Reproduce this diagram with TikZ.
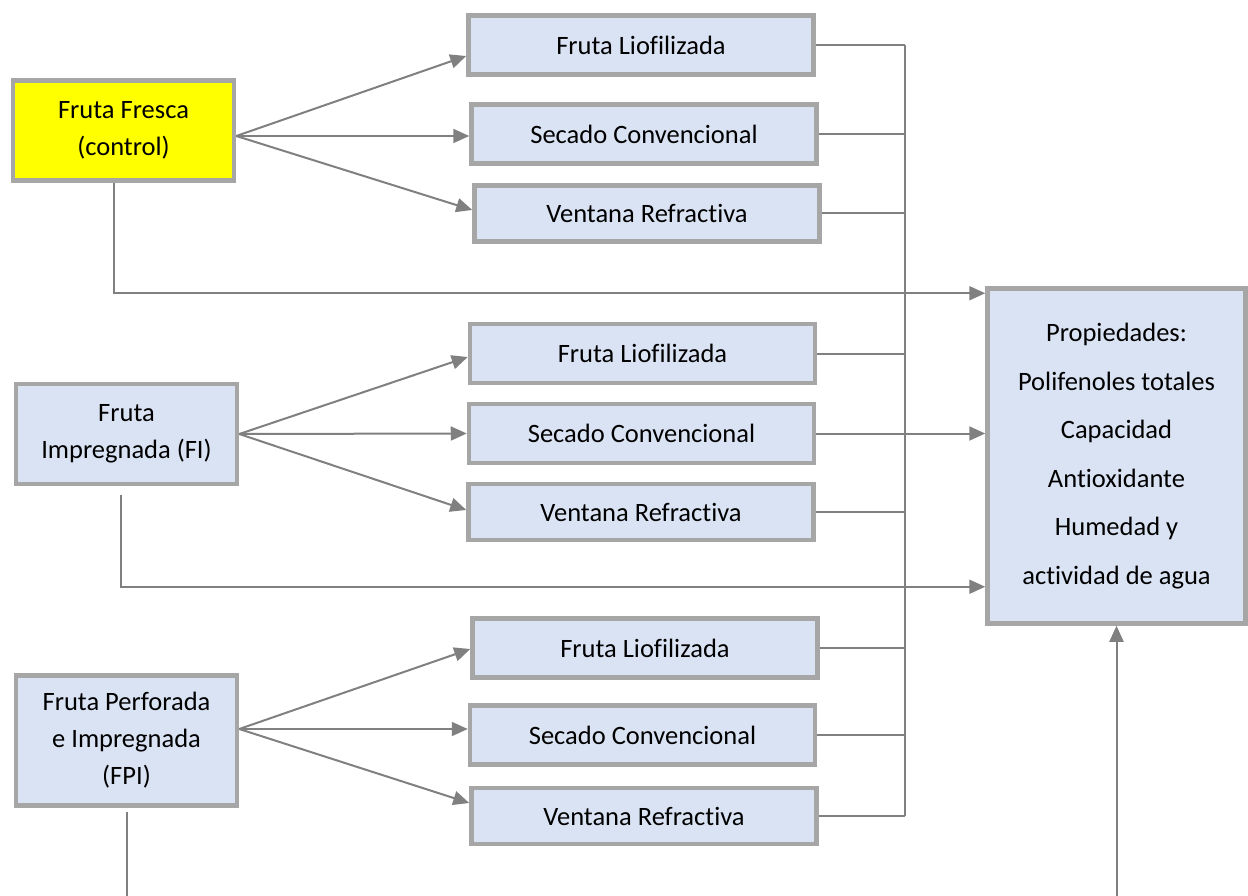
\documentclass[tikz,border=0pt]{standalone}
\usepackage{fontspec}
\setmainfont{Carlito}[Ligatures=CommonOff]
\usetikzlibrary{arrows.meta,calc}
\definecolor{boxEdge}{RGB}{166,166,166}
\definecolor{boxFill}{RGB}{218,227,243}
\definecolor{lineGray}{RGB}{128,128,128}
\definecolor{freshYellow}{RGB}{255,255,0}

\begin{document}
\begin{tikzpicture}[x=1pt, y=-1pt,
  proc/.style={draw=boxEdge, fill=boxFill, line width=4.5pt, inner sep=0pt,
               font=\fontsize{26.5}{37}\selectfont, align=center},
  src/.style={proc, minimum width=221pt, minimum height=100pt},
  dry/.style={proc, minimum width=345pt, minimum height=59pt},
  conn/.style={draw=lineGray, line width=2pt},
  arr/.style={conn, -{Triangle[length=16pt,width=14pt]}}
]
\useasboundingbox (0,0) rectangle (1248,896);
\node[src, fill=freshYellow] (FF) at (123.5,130.5) {Fruta Fresca\\(control)};
\node[src] (FI)  at (126.5,434) {Fruta\\Impregnada (FI)};
\node[src, minimum height=130pt] (FPI) at (126.5,740.5) {Fruta Perforada\\e Impregnada\\(FPI)};
\node[dry] (L1) at (641,45)    {Fruta Liofilizada};
\node[dry] (S1) at (644,134)   {Secado Convencional};
\node[dry, minimum height=56pt] (V1) at (647,213.5) {Ventana Refractiva};
\node[dry] (L2) at (642.5,353.5) {Fruta Liofilizada};
\node[dry] (S2) at (641.5,433.5) {Secado Convencional};
\node[dry, minimum height=56pt] (V2) at (641,512) {Ventana Refractiva};
\node[dry] (L3) at (645,648)   {Fruta Liofilizada};
\node[dry] (S3) at (642.5,735) {Secado Convencional};
\node[dry, minimum height=56pt] (V3) at (644,816) {Ventana Refractiva};
\node[proc, minimum width=258pt, minimum height=335pt,
      font=\fontsize{26.5}{48.6}\selectfont] (Prop) at (1116.5,456)
  {Propiedades:\\Polifenoles totales\\Capacidad\\Antioxidante\\Humedad y\\actividad de agua};
\coordinate (bus) at (905,0);
\coordinate (cut) at (0,900);
% fan out from each fruit
\foreach \c/\dy in {L1/-11,S1/-2,V1/3.5}
  \draw[arr] ([yshift=-5.5pt]FF.east) -- ([yshift=\dy pt]\c.west);
\foreach \c/\dy in {L2/-3.5,S2/0,V2/2}
  \draw[arr] (FI.east) -- ([yshift=\dy pt]\c.west);
\foreach \c/\dy in {L3/-1,S3/6,V3/13}
  \draw[arr] ([yshift=11.5pt]FPI.east) -- ([yshift=\dy pt]\c.west);
% collector
\foreach \c in {L1,S1,V1,L2,V2,L3,S3,V3}
  \draw[conn] (\c.east) -- (\c.east -| bus);
\draw[conn] (L1.east -| bus) -- (V3.east -| bus);
\draw[arr] (S2.east) -- (S2.east -| Prop.west);
% direct lines
\draw[arr] ([xshift=-9.5pt]FF.south) |- ([yshift=-7pt]Prop.north west);
\draw[arr, shorten <=9pt] ([xshift=-5.5pt]FI.south) |- ([yshift=39pt]Prop.south west);
\draw[conn, shorten <=4pt] (FPI.south) -- (FPI.south |- cut);
\draw[arr] (Prop.south |- cut) -- (Prop.south);
\end{tikzpicture}
\end{document}
